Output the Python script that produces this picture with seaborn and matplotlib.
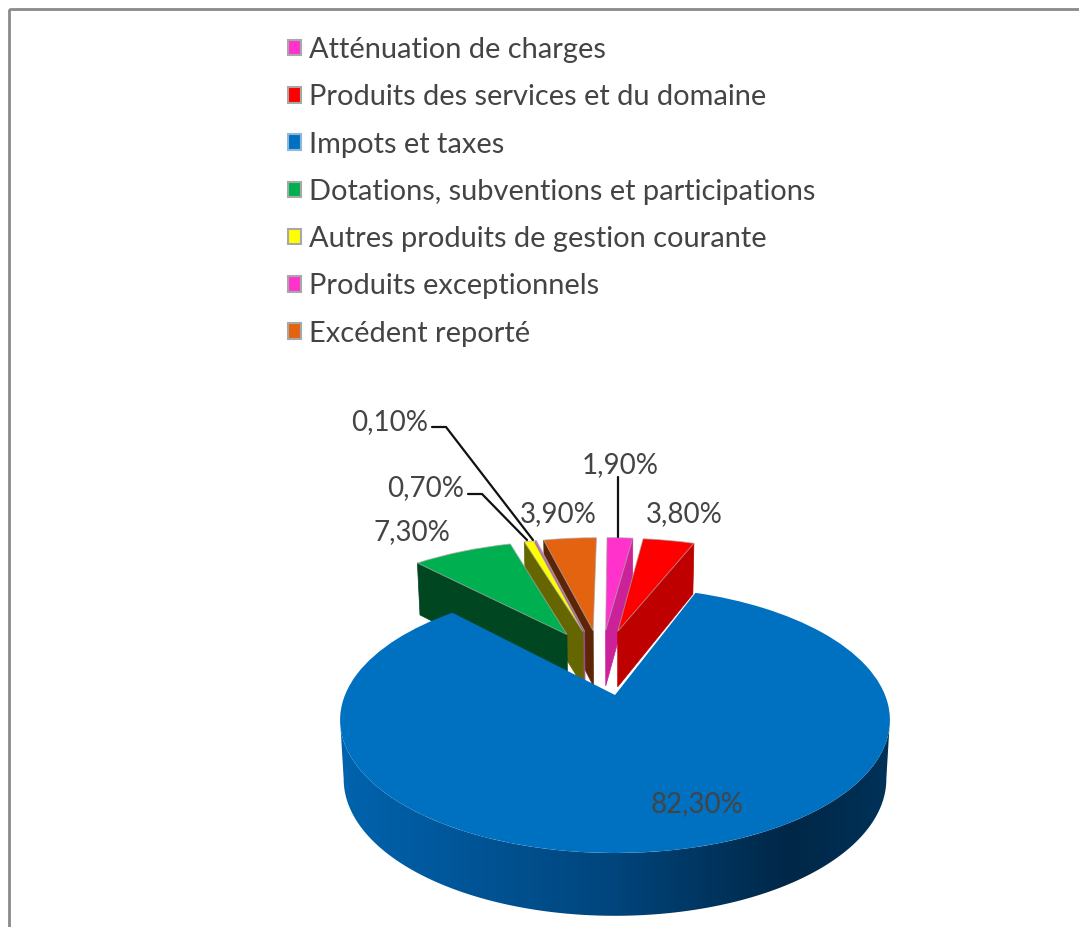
import numpy as np
import matplotlib
matplotlib.use("Agg")
import matplotlib.pyplot as plt
import seaborn as sns
from matplotlib.colors import LinearSegmentedColormap
from matplotlib.patches import Patch, Polygon, Rectangle
from matplotlib.transforms import Transform

# Revenue breakdown, in percent
CATEGORIES = [
    "Atténuation de charges",
    "Produits des services et du domaine",
    "Impots et taxes",
    "Dotations, subventions et participations",
    "Autres produits de gestion courante",
    "Produits exceptionnels",
    "Excédent reporté",
]
VALUES = [1.9, 3.8, 82.3, 7.3, 0.7, 0.1, 3.9]
TOP_COLORS = ["#FF33CC", "#FF0000", "#0070C0", "#00B050", "#FFFF00", "#FF33CC", "#E46311"]
WALL_COLORS = ["#CC2299", "#BF0000", "#003F73", "#004620", "#666600", "#A05090", "#5C2606"]

# Painter's order for the slices, back to front
DRAW_ORDER = [6, 5, 4, 3, 0, 1, 2]

EXPLODE = 0.28
SMALL_SLICE_RADIUS = 1.04
WIDTH, HEIGHT = 1079, 927
TEXT_COLOR = "#444444"
FONT = {"family": "Lato", "weight": "normal", "color": TEXT_COLOR}

# Value label centres and their leader lines, in pixels
LABEL_CENTERS = [(620, 465), (684, 514), (697, 804), (412, 532), (426, 488), (390, 422), (558, 514)]
LEADERS = {
    0: [(618, 477), (618, 537)],
    4: [(468, 494), (482, 494), (527, 540)],
    5: [(432, 427), (446, 427), (533, 540)],
}


class TiltedPlane(Transform):
    """Perspective projection of the pie plane onto the pixel grid."""

    input_dims = output_dims = 2
    is_separable = False
    has_inverted = False

    def __init__(self, origin):
        super().__init__()
        self.origin = np.asarray(origin, dtype=float)

    def transform_non_affine(self, values):
        pts = np.asarray(values, dtype=float) - self.origin
        w = 1 + 0.188 * pts[:, 1]
        return np.column_stack([615 + 270 * pts[:, 0] / w, 695 - 128.3 * pts[:, 1] / w])

    def lowered(self, values):
        """Same projection for the underside of the disc."""
        pts = np.asarray(values, dtype=float)
        xy = self.transform_non_affine(pts)
        xy[:, 0] = 615 + (xy[:, 0] - 615) * 0.987
        xy[:, 1] += 58 - 4.8 * (pts[:, 1] - self.origin[1])
        return xy


sns.set_style("white")
palette = sns.color_palette(TOP_COLORS)
walls = sns.color_palette(WALL_COLORS)

fig = plt.figure(figsize=(WIDTH / 100, HEIGHT / 100), dpi=100, facecolor="white")
ax = fig.add_axes([0, 0, 1, 1])

wedges, _ = ax.pie(
    VALUES,
    explode=[EXPLODE] * len(VALUES),
    startangle=90,
    counterclock=False,
    colors=palette,
    radius=1,
)
ax.set_aspect("auto")
ax.set_xlim(0, WIDTH)
ax.set_ylim(HEIGHT, 0)
ax.axis("off")

plane = TiltedPlane(wedges[2].center)
to_screen = plane + ax.transData

rim_shade = LinearSegmentedColormap.from_list(
    "rim",
    [(0.0, "#0063AE"), (0.5, "#00457C"), (0.82, "#002747"), (1.0, "#003259")],
)

for rank, idx in enumerate(DRAW_ORDER):
    wedge = wedges[idx]
    wedge.set_transform(to_screen)
    wedge.set_zorder(10 + 2 * rank + 1)
    center = np.array(wedge.center)
    if idx == 2:
        # Blue disc: horizontal gradient clipped to the visible front of its rim
        wedge.set_edgecolor("none")
        angles = np.radians(np.linspace(wedge.theta1, wedge.theta2, 721))
        rim = center + wedge.r * np.column_stack([np.cos(angles), np.sin(angles)])
        top, bottom = plane.transform_non_affine(rim), plane.lowered(rim)
        left, right = np.argmin(top[:, 0]), np.argmax(top[:, 0])
        outline = Polygon(np.vstack([top[left:right + 1], bottom[left:right + 1][::-1]]),
                          closed=True, transform=ax.transData,
                          facecolor="none", edgecolor="none")
        ax.add_patch(outline)
        gradient = ax.imshow(
            np.linspace(0, 1, 256)[None, :], cmap=rim_shade, aspect="auto",
            extent=(340, 890, HEIGHT, 500), zorder=10 + 2 * rank, interpolation="bilinear",
        )
        gradient.set_clip_path(outline)
        ax.set_xlim(0, WIDTH)
        ax.set_ylim(HEIGHT, 0)
    else:
        # Straight wall under the slice edge that faces the viewer
        wedge.set_radius(SMALL_SLICE_RADIUS)
        wedge.set_edgecolor((0.65, 0.65, 0.65, 0.7))
        wedge.set_linewidth(0.7)
        theta = wedge.theta1 if wedge.center[0] > 0 else wedge.theta2
        outer = center + wedge.r * np.array([np.cos(np.radians(theta)), np.sin(np.radians(theta))])
        edge = np.vstack([center, outer])
        top, bottom = plane.transform_non_affine(edge), plane.lowered(edge)
        ax.fill(
            [top[0, 0], top[1, 0], bottom[1, 0], bottom[0, 0]],
            [top[0, 1], top[1, 1], bottom[1, 1], bottom[0, 1]],
            color=walls[idx], lw=0.5, zorder=10 + 2 * rank,
        )

# Value labels and leader lines
for idx, (value, (x, y)) in enumerate(zip(VALUES, LABEL_CENTERS)):
    ax.text(x, y, f"{value:.2f}%".replace(".", ","), ha="center", va="center",
            fontsize=20, zorder=40, **FONT)
for points in LEADERS.values():
    xs, ys = zip(*points)
    ax.plot(xs, ys, color="#111111", lw=1.6, zorder=39, solid_joinstyle="miter")

# Legend
handles = [Patch(facecolor=c, edgecolor="#A8A8A8", linewidth=1.5) for c in palette]
handles[2].set_edgecolor("#8DB8DC")
legend = ax.legend(
    handles, CATEGORIES,
    loc="upper left", bbox_to_anchor=(288, 37), bbox_transform=ax.transData,
    frameon=False, borderpad=0, borderaxespad=0,
    handlelength=0.45, handleheight=0.45, handletextpad=0.29, labelspacing=0.734,
    prop={"family": "Lato", "weight": "normal", "size": 20.85},
)
for text in legend.get_texts():
    text.set_color(TEXT_COLOR)

# Outer frame, cut off by the right and bottom edges of the figure
ax.add_patch(Rectangle((8.5, 8.5), WIDTH + 20, HEIGHT + 20, fill=False,
                       edgecolor="#8A8A8A", lw=2, zorder=1))

fig.savefig("out.png", dpi=100, facecolor="white")
